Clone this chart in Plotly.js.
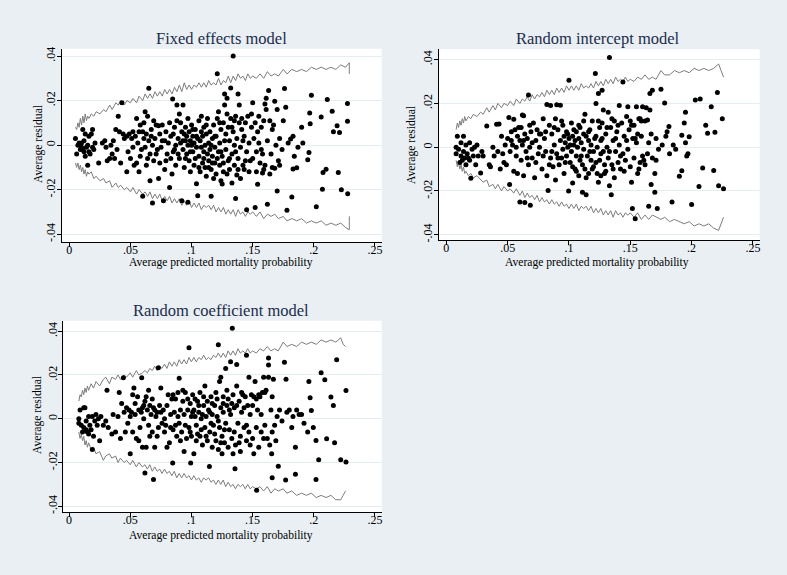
<!DOCTYPE html>
<html>
<head>
<meta charset="utf-8">
<script src="https://cdn.plot.ly/plotly-3.0.1.min.js"></script>
<style>html,body{margin:0;padding:0;background:#e9eff3;}#chart{width:787px;height:575px;}</style>
</head>
<body>
<div id="chart"></div>
<script>
// ---------- data ----------
const panelTitles = ["Fixed effects model", "Random intercept model", "Random coefficient model"];
const xTitle = "Average predicted mortality probability";
const yTitle = "Average residual";
const xTickVals = [0, 0.05, 0.1, 0.15, 0.2, 0.25];
const xTickText = ["0", ".05", ".1", ".15", ".2", ".25"];
const yTickVals = [-0.04, -0.02, 0, 0.02, 0.04];
const yTickText = ["-.04", "-.02", "0", ".02", ".04"];

// points [predicted probability, residual]
const pts1 = [
[.005,.003],[.006,-.004],[.007,.000],[.008,.001],[.009,-.002],[.010,.001],[.010,-.001],[.011,.007],[.012,-.003],[.012,.002],[.013,.005],[.013,-.005],[.014,-.001],[.015,.000],[.015,-.009],[.016,.004],[.016,-.003],[.018,.005],[.019,-.001],[.019,.007],[.020,-.002],[.021,.001],[.017,-.004],[.011,-.002],
[.024,-.008],[.027,.001],[.029,.002],[.030,-.001],[.031,-.007],[.033,-.006],[.035,-.004],[.036,.002],[.038,.007],[.039,-.002],[.040,.013],[.041,.006],[.042,-.008],[.043,.019],[.044,.005],[.045,.003],[.037,-.006],[.034,.000],
[.047,.004],[.047,-.012],[.048,-.003],[.049,.005],[.050,-.006],[.051,.003],[.052,-.001],[.053,-.009],[.054,.004],[.055,.012],[.055,-.008],[.056,.001],[.057,-.012],[.057,.006],[.058,.009],[.059,-.002],[.060,.006],[.060,-.023],[.061,.003],[.062,.015],[.062,-.001],[.063,.005],[.064,.013],[.064,-.006],[.065,.0255],[.065,.002],[.066,-.016],[.066,-.004],[.067,.007],[.068,-.026],[.068,.000],[.069,-.007],[.070,.003],[.071,.009],[.072,-.002],[.073,.0087],[.073,-.015],[.074,.005],[.075,-.001],[.076,.009],[.077,-.025],[.078,-.011],[.078,.002],
[.079,.006],[.080,-.004],[.081,.001],[.082,-.019],[.082,.010],[.083,.004],[.084,-.013],[.0845,.0207],[.085,-.003],[.086,.008],[.087,.000],[.087,-.009],[.088,.018],[.088,.011],[.089,.003],[.090,-.006],[.090,.014],[.091,.001],[.092,-.025],[.092,.006],[.093,.018],[.093,-.002],[.094,.005],[.094,-.010],[.095,.002],[.095,.008],[.096,-.004],[.096,.004],[.097,-.0256],[.097,.000],[.098,.006],[.098,-.007],[.099,.002],[.099,-.012],[.100,.000],[.100,.009],[.101,-.003],[.101,.004],[.102,.001],[.102,-.009],[.103,.007],[.104,-.0173],[.104,-.001],[.105,-.0227],[.105,.003],
[.106,.011],[.106,-.005],[.107,-.012],[.107,.002],[.108,.013],[.108,-.001],[.109,-.008],[.109,.004],[.110,.008],[.110,-.003],[.111,-.010],[.111,.000],[.112,.005],[.112,-.014],[.113,-.004],[.113,.012],[.114,.001],[.114,-.007],[.115,-.002],[.115,.006],[.116,-.023],[.116,-.011],[.117,.003],[.117,-.005],[.118,-.015],[.118,.009],[.119,-.001],[.119,-.008],[.120,.004],[.120,-.013],[.121,.032],[.121,.012],[.122,-.003],[.122,.015],[.123,-.009],[.123,.001],[.124,-.016],[.124,.007],[.125,-.0174],[.125,-.005],[.126,.010],[.126,-.012],[.127,.023],[.127,.018],[.128,-.002],[.128,.005],[.129,.021],[.129,-.013],[.130,-.007],[.130,.008],
[.131,.002],[.131,-.011],[.132,.0256],[.132,.012],[.133,-.017],[.133,-.004],[.134,.040],[.134,.006],[.135,.000],[.135,-.009],[.136,-.024],[.136,.013],[.137,-.0134],[.137,.003],[.138,.023],[.138,-.006],[.139,.018],[.139,.010],[.140,-.001],[.140,-.015],[.141,.007],[.142,-.009],[.143,-.011],[.143,.004],[.144,.010],[.145,-.003],[.146,.013],[.147,.001],[.148,-.007],[.149,.008],[.150,.019],[.150,-.006],[.151,.003],[.152,-.028],[.152,.010],[.153,-.012],[.154,-.0176],[.154,.006],[.155,.001],[.156,-.008],[.157,.008],[.158,-.004],[.159,.011],[.160,-.009],[.161,.021],[.161,.016],[.162,-.0266],[.162,.002],
[.163,.0245],[.164,-.013],[.164,.011],[.165,-.004],[.166,-.010],[.167,.009],[.168,-.0104],[.168,.0197],[.169,.000],[.170,.016],[.170,-.0206],[.171,-.007],[.172,.003],[.174,-.002],[.175,.011],[.176,.0254],[.177,.017],[.178,-.0292],[.179,.001],[.181,.0027],[.182,-.0233],[.183,.004],[.183,-.0107],[.184,-.005],[.186,-.0102],[.187,-.001],[.190,.008],[.191,.001],[.195,-.0066],[.196,-.0033],[.1966,.0144],[.197,.0096],[.198,.0224],[.202,-.0277],[.206,.0126],[.207,-.0198],[.2075,-.0123],[.210,-.0108],[.211,.0205],[.215,.0152],[.216,.006],[.219,.0087],[.220,-.0123],[.221,.0057],[.2225,-.020],[.2275,.0187],[.2275,.0107],[.2277,-.0218],[.160,.0185],[.145,-.029],[.158,-.0125],
[.052,.006],[.058,-.005],[.061,.010],[.063,-.009],[.067,.004],[.069,.011],[.071,-.004],[.074,-.008],[.076,.002],[.079,-.007],[.083,-.006],[.085,.005],[.086,-.002],[.089,-.004],[.091,.010],[.093,.002],[.095,-.006],[.097,.012],[.099,-.003],[.101,.007],[.103,-.006],[.104,.004],[.106,-.010],[.108,.006],[.110,-.006],[.112,.009],[.114,-.010],[.116,.000],[.117,-.008],[.119,.004],[.121,-.006],[.123,.010],[.124,-.003],[.126,-.008],[.127,.002],[.129,.014],[.131,-.006],[.133,.008],[.135,.011],[.136,-.003],[.138,-.011],[.141,.012],[.142,.002],[.144,-.007],[.147,-.012],[.149,.014],[.153,-.003],[.155,.013],[.157,-.002],[.159,-.011],[.166,.007],[.172,-.009]
];

const pts2 = [
[.008,.000],[.008,-.003],[.009,.005],[.010,-.001],[.011,-.007],[.012,.002],[.012,-.004],[.013,-.006],[.014,.005],[.014,-.002],[.015,-.005],[.016,-.008],[.016,.001],[.017,-.003],[.018,-.005],[.019,.002],[.019,-.006],[.020,-.0142],[.021,-.001],[.022,-.004],[.023,.000],[.024,-.008],[.025,.001],[.026,-.004],[.028,-.0118],[.029,-.002],[.030,-.004],
[.033,.0097],[.035,-.008],[.036,-.009],[.038,.000],[.039,-.004],[.041,.0105],[.042,-.002],[.043,.0106],[.044,-.010],[.045,.005],[.046,-.003],[.047,-.007],[.048,.001],[.049,-.008],[.050,.004],[.051,.0135],[.0516,-.017],[.052,-.002],[.053,.003],[.054,.001],[.055,.0128],[.055,-.011],[.056,.008],[.057,.000],[.058,-.012],[.058,.005],[.059,.009],[.060,-.025],[.060,.003],[.061,-.006],[.062,.0147],[.062,.001],[.063,.0143],[.063,-.013],[.064,.006],[.064,-.0253],[.065,-.002],[.066,.004],[.067,.0238],[.067,-.008],[.068,.000],[.0685,-.0265],[.069,.007],[.070,-.005],
[.071,.011],[.072,-.014],[.073,.003],[.074,.008],[.075,-.003],[.076,.000],[.077,.006],[.078,-.010],[.079,.013],[.080,.004],[.081,-.002],[.082,.0195],[.082,-.013],[.083,-.0198],[.084,.010],[.085,.019],[.085,-.005],[.086,.006],[.087,-.009],[.088,.001],[.089,.013],[.089,-.015],[.090,.0194],[.090,-.003],[.091,.008],[.092,-.008],[.093,.0191],[.093,.003],[.094,-.005],[.095,.010],[.095,-.001],[.096,.005],[.096,-.012],[.097,.002],[.098,-.004],[.098,.007],[.099,.000],[.0997,-.020],[.100,.0306],[.100,.004],[.101,-.007],
[.102,.011],[.102,-.002],[.103,-.0164],[.103,.005],[.104,.001],[.105,-.010],[.105,.003],[.106,.007],[.106,-.004],[.107,.000],[.108,-.013],[.108,.004],[.109,-.006],[.109,.009],[.110,.002],[.111,-.0206],[.111,-.008],[.112,.012],[.112,-.001],[.113,.015],[.113,-.010],[.114,-.0217],[.114,.005],[.115,-.004],[.116,.003],[.116,-.012],[.117,.008],[.118,-.006],[.118,.001],[.119,.012],[.120,-.002],[.120,-.009],[.1215,.0336],[.122,.020],[.122,.005],[.123,-.012],[.123,.000],[.124,.0245],[.124,-.016],[.125,-.006],[.125,.009],[.126,-.013],[.126,.003],[.127,.026],[.127,.011],[.128,-.002],[.128,.017],[.129,-.008],[.130,.006],[.130,-.011],
[.131,.000],[.132,.016],[.132,-.005],[.133,.041],[.133,-.0176],[.134,.009],[.1345,-.0217],[.135,-.008],[.136,.003],[.137,-.014],[.137,.012],[.138,-.002],[.139,.007],[.140,-.007],[.141,.019],[.141,.001],[.142,-.010],[.143,.011],[.144,.0298],[.144,-.003],[.145,.005],[.146,-.006],[.147,.014],[.148,.0185],[.148,-.001],[.149,.008],[.150,-.009],[.151,-.016],[.151,.010],[.1517,-.028],[.152,.004],[.153,.010],[.154,-.0327],[.154,.004],[.155,.0185],[.156,-.012],[.156,.006],[.157,.013],[.158,-.007],[.158,.013],[.159,.012],[.160,.0185],[.160,-.004],
[.161,-.006],[.162,.012],[.163,.018],[.164,.0124],[.164,-.003],[.165,-.027],[.165,.002],[.166,.0245],[.166,.017],[.167,-.017],[.168,.026],[.168,-.005],[.170,-.012],[.170,-.0206],[.171,.004],[.172,-.028],[.173,-.001],[.175,.0264],[.176,.001],[.178,.0202],[.179,.005],[.180,.007],[.1815,.0094],[.182,-.003],[.184,-.025],[.185,.001],[.187,-.001],[.190,-.0133],[.192,-.0108],[.192,.0055],[.194,.011],[.195,.016],[.195,.002],[.197,-.003],[.198,.0048],[.200,-.0262],[.203,.0215],[.206,-.018],[.207,.022],[.209,-.0095],[.2115,.0100],[.213,.0064],[.216,.0185],[.218,-.0106],[.219,.0068],[.221,.025],[.222,-.0176],[.225,.013],[.226,-.019],[.196,-.004],
[.053,.007],[.057,-.004],[.061,.009],[.063,.003],[.066,-.005],[.068,.010],[.070,.002],[.073,-.007],[.076,.006],[.079,-.004],[.081,.007],[.084,-.008],[.086,-.002],[.088,.009],[.091,-.005],[.094,.012],[.097,-.007],[.099,.006],[.101,.001],[.103,-.009],[.104,.008],[.106,-.011],[.108,.010],[.110,-.004],[.112,.006],[.114,-.014],[.116,.007],[.117,-.002],[.119,-.010],[.121,.004],[.122,-.007],[.124,.012],[.126,-.003],[.127,.004],[.129,-.012],[.131,.009],[.133,-.002],[.135,.013],[.136,-.010],[.138,.004],[.140,.010],[.142,-.004],[.145,-.011],[.147,.003],[.150,.012],[.153,-.005],[.155,.002],[.157,-.010],[.159,.005],[.162,-.008],[.167,.006],[.171,-.006]
];

const pts3 = [
[.008,.000],[.008,-.002],[.009,.004],[.010,-.003],[.011,-.006],[.012,.005],[.012,-.004],[.013,.005],[.014,-.005],[.014,-.001],[.015,-.006],[.016,-.007],[.016,.001],[.017,-.003],[.018,-.005],[.019,.001],[.019,-.014],[.020,-.008],[.021,-.001],[.022,.002],[.023,-.003],[.024,.000],[.025,-.010],[.026,.001],[.028,-.003],[.030,-.001],[.031,.013],[.032,-.004],
[.035,-.007],[.036,.002],[.038,-.006],[.040,.001],[.041,.012],[.042,-.009],[.043,.007],[.0444,.0187],[.045,.003],[.046,-.006],[.047,.005],[.048,-.002],[.049,.004],[.050,-.016],[.050,.001],[.051,.003],[.052,.011],[.052,-.006],[.053,.014],[.054,.002],[.055,-.009],[.056,.010],[.057,.004],[.058,-.004],[.059,.003],[.0594,.0187],[.060,-.013],[.060,.005],[.061,.000],[.062,-.0248],[.062,.008],[.063,-.013],[.064,.004],[.065,.013],[.065,-.003],[.066,.006],[.067,.002],[.068,-.006],[.069,-.0278],[.069,.005],[.070,-.013],[.071,.001],[.072,.003],
[.073,.0233],[.073,-.004],[.074,.006],[.075,.014],[.076,-.002],[.077,.004],[.078,.000],[.079,-.003],[.080,-.013],[.081,.011],[.082,-.011],[.083,.002],[.084,.009],[.0847,-.0202],[.085,-.005],[.086,.003],[.087,.009],[.088,-.008],[.089,.012],[.090,.0185],[.090,-.002],[.091,.004],[.092,-.006],[.093,.008],[.094,-.015],[.094,.002],[.095,.012],[.096,-.009],[.097,.004],[.098,.0324],[.098,-.004],[.0994,-.0202],[.099,.007],[.100,-.008],[.100,.001],[.101,.011],
[.102,-.016],[.102,.004],[.103,.001],[.104,-.003],[.105,.008],[.105,-.007],[.106,.003],[.107,-.008],[.107,.012],[.108,.000],[.109,.002],[.109,-.012],[.110,.006],[.111,-.004],[.111,.015],[.112,.001],[.113,-.010],[.113,.008],[.1147,-.0218],[.115,-.006],[.115,.003],[.116,.010],[.117,-.013],[.117,.002],[.118,-.003],[.119,.006],[.120,-.010],[.120,.012],[.121,.001],[.122,.0338],[.122,-.014],[.123,.017],[.123,-.004],[.124,.019],[.124,.005],[.125,-.016],[.125,-.008],[.126,.010],[.126,.003],[.127,-.011],[.128,.023],[.128,-.002],[.129,.006],[.130,-.013],[.130,.009],
[.131,-.005],[.132,.026],[.132,.002],[.1334,.0414],[.133,-.009],[.134,.011],[.134,-.016],[.1356,-.0228],[.135,.005],[.136,-.012],[.137,.0248],[.137,.015],[.138,-.002],[.139,.008],[.140,-.008],[.140,-.015],[.141,.003],[.142,.011],[.143,-.004],[.144,.010],[.145,.029],[.145,-.010],[.146,.006],[.147,.019],[.147,-.006],[.148,.002],[.149,.011],[.150,-.009],[.151,-.016],[.151,.010],[.152,.017],[.1533,-.0327],[.153,.009],[.154,.004],[.155,-.013],[.156,.010],[.157,-.006],[.158,.012],[.159,.019],[.160,-.003],[.160,.012],
[.161,.013],[.162,-.009],[.163,.0278],[.163,.0246],[.163,.019],[.164,-.012],[.165,.004],[.1656,-.016],[.166,-.027],[.166,-.006],[.167,.018],[.168,-.003],[.170,.001],[.171,-.0217],[.172,.004],[.174,-.001],[.176,.0258],[.1773,.018],[.177,-.028],[.178,.003],[.180,.004],[.182,-.004],[.183,.001],[.185,-.0254],[.185,-.013],[.186,.004],[.188,.002],[.190,.002],[.192,-.002],[.196,.017],[.197,.0096],[.198,.0038],[.1996,-.004],[.2018,-.0099],[.2018,-.0278],[.204,-.0187],[.206,.021],[.209,.0178],[.2105,-.0091],[.214,.0099],[.216,.006],[.217,-.011],[.2187,.027],[.222,-.0187],[.2263,.0129],[.2263,-.0198],[.195,-.006],
[.054,.007],[.057,-.010],[.061,.006],[.063,.010],[.066,-.008],[.068,.009],[.070,.004],[.072,-.008],[.075,.003],[.078,-.006],[.080,.006],[.083,-.004],[.085,.011],[.087,-.003],[.089,.001],[.091,-.010],[.093,.013],[.095,-.003],[.097,.009],[.099,-.006],[.101,.003],[.103,.009],[.104,-.010],[.106,.006],[.108,-.005],[.110,.010],[.112,-.008],[.114,.004],[.116,-.002],[.117,.007],[.119,-.007],[.121,.009],[.122,-.001],[.124,-.011],[.126,.007],[.127,-.005],[.129,.013],[.131,.004],[.133,.007],[.135,-.006],[.137,.006],[.139,-.011],[.141,.012],[.143,.005],[.145,-.003],[.148,-.012],[.150,.006],[.153,-.004],[.155,.011],[.157,.002],[.159,-.009],[.166,.010],[.169,-.010]
];

// envelope rows [predicted probability, upper limit, lower limit]
const env1 = [
[.005,.008,-.008],[.006,.007,-.010],[.007,.010,-.008],[.008,.008,-.011],[.009,.012,-.009],[.010,.009,-.012],[.011,.013,-.010],[.012,.010,-.013],[.013,.014,-.011],[.014,.011,-.014],[.015,.013,-.012],[.016,.012,-.013],
[.018,.014,-.012],[.020,.013,-.015],[.022,.015,-.014],[.025,.014,-.016],[.028,.016,-.015],[.030,.015,-.017],[.033,.018,-.016],[.035,.016,-.019],[.038,.019,-.017],[.040,.018,-.019],[.042,.020,-.018],[.045,.018,-.020],[.047,.020,-.019],[.050,.019,-.021],[.052,.021,-.019],[.055,.019,-.022],[.057,.022,-.020],
[.060,.020,-.022],[.062,.023,-.021],[.064,.021,-.023],[.066,.023,-.021],[.068,.021,-.024],[.070,.024,-.022],[.072,.022,-.024],[.074,.024,-.022],[.076,.022,-.025],[.078,.025,-.023],
[.080,.023,-.025],[.082,.025,-.023],[.084,.023,-.026],[.086,.026,-.024],[.088,.024,-.026],[.090,.027,-.024],[.092,.024,-.027],[.094,.028,-.025],[.096,.025,-.027],[.098,.027,-.025],
[.100,.025,-.028],[.102,.027,-.026],[.104,.026,-.028],[.106,.028,-.026],[.108,.026,-.029],[.110,.028,-.027],[.112,.026,-.028],[.114,.029,-.027],[.116,.027,-.029],[.118,.028,-.027],
[.120,.027,-.030],[.122,.030,-.028],[.124,.027,-.030],[.126,.029,-.028],[.128,.028,-.031],[.130,.031,-.029],[.132,.028,-.031],[.134,.031,-.029],[.136,.029,-.032],[.138,.032,-.029],
[.140,.030,-.031],[.142,.031,-.030],[.144,.029,-.032],[.146,.032,-.030],[.148,.030,-.031],[.150,.031,-.030],
[.153,.030,-.032],[.156,.032,-.030],[.159,.030,-.033],[.162,.033,-.031],[.165,.031,-.032],[.168,.032,-.031],[.171,.031,-.033],[.175,.034,-.032],[.178,.032,-.034],
[.182,.034,-.033],[.186,.033,-.034],[.190,.034,-.033],[.194,.033,-.035],[.198,.035,-.034],[.202,.034,-.035],[.206,.035,-.034],[.210,.034,-.036],[.214,.035,-.035],[.218,.034,-.036],[.222,.036,-.035],[.226,.035,-.037],[.229,.037,-.038],[.229,.032,-.032]
];

const env2 = [
[.008,.008,-.006],[.009,.011,-.009],[.010,.009,-.007],[.011,.012,-.010],[.012,.010,-.008],[.013,.013,-.011],[.014,.011,-.009],[.015,.014,-.012],[.016,.012,-.011],
[.018,.014,-.013],[.020,.013,-.012],[.022,.015,-.014],[.025,.014,-.013],[.028,.016,-.015],[.030,.015,-.016],[.033,.018,-.015],[.035,.016,-.018],[.038,.019,-.017],[.040,.017,-.019],[.042,.020,-.017],[.045,.018,-.020],[.047,.020,-.018],[.050,.019,-.020],[.052,.021,-.019],[.055,.019,-.021],[.057,.022,-.019],
[.060,.020,-.022],[.062,.022,-.020],[.064,.021,-.023],[.066,.023,-.021],[.068,.021,-.023],[.070,.024,-.022],[.072,.022,-.024],[.074,.024,-.022],[.076,.023,-.025],[.078,.025,-.023],
[.080,.023,-.025],[.082,.026,-.024],[.084,.024,-.026],[.086,.026,-.024],[.088,.024,-.026],[.090,.027,-.025],[.092,.025,-.027],[.094,.027,-.025],[.096,.025,-.027],[.098,.028,-.026],
[.100,.026,-.028],[.102,.028,-.026],[.104,.026,-.028],[.106,.028,-.026],[.108,.026,-.029],[.110,.029,-.027],[.112,.027,-.028],[.114,.028,-.027],[.116,.027,-.029],[.118,.029,-.027],
[.120,.027,-.030],[.122,.030,-.028],[.124,.028,-.030],[.126,.030,-.028],[.128,.028,-.031],[.130,.031,-.029],[.132,.029,-.031],[.134,.031,-.029],[.136,.029,-.032],[.138,.032,-.029],
[.140,.030,-.031],[.142,.031,-.030],[.144,.030,-.032],[.146,.032,-.030],[.148,.030,-.031],[.150,.031,-.030],
[.153,.030,-.032],[.156,.032,-.030],[.159,.031,-.033],[.162,.033,-.031],[.165,.031,-.033],[.168,.032,-.031],[.171,.031,-.032],[.175,.035,-.033],[.178,.033,-.032],
[.182,.033,-.034],[.186,.035,-.033],[.190,.034,-.034],[.194,.035,-.035],[.198,.034,-.034],[.202,.036,-.036],[.206,.035,-.035],[.210,.036,-.036],[.214,.035,-.035],[.218,.036,-.037],[.222,.038,-.038],[.224,.035,-.035],[.226,.032,-.032]
];

const env3 = [
[.008,.008,-.006],[.009,.011,-.009],[.010,.010,-.007],[.011,.013,-.010],[.012,.011,-.008],[.013,.014,-.012],[.014,.012,-.010],[.015,.015,-.013],[.016,.013,-.011],
[.018,.016,-.014],[.020,.014,-.013],[.022,.017,-.016],[.025,.015,-.015],[.028,.018,-.019],[.030,.019,-.017],[.033,.016,-.016],[.035,.019,-.018],[.038,.018,-.017],[.040,.020,-.020],[.042,.018,-.018],[.045,.020,-.020],[.047,.019,-.019],[.050,.021,-.021],[.052,.019,-.019],[.055,.022,-.022],[.057,.020,-.020],
[.060,.021,-.022],[.062,.022,-.021],[.064,.021,-.023],[.066,.023,-.021],[.068,.022,-.024],[.070,.024,-.022],[.072,.022,-.024],[.074,.024,-.023],[.076,.023,-.025],[.078,.025,-.023],
[.080,.023,-.025],[.082,.026,-.024],[.084,.024,-.026],[.086,.026,-.024],[.088,.024,-.027],[.090,.027,-.025],[.092,.025,-.027],[.094,.027,-.025],[.096,.025,-.027],[.098,.028,-.026],
[.100,.026,-.028],[.102,.028,-.026],[.104,.026,-.028],[.106,.028,-.027],[.108,.027,-.029],[.110,.029,-.027],[.112,.027,-.028],[.114,.028,-.027],[.116,.027,-.029],[.118,.029,-.028],
[.120,.028,-.030],[.122,.030,-.028],[.124,.028,-.030],[.126,.030,-.028],[.128,.028,-.031],[.130,.031,-.029],[.132,.029,-.031],[.134,.031,-.030],[.136,.029,-.032],[.138,.032,-.030],
[.140,.030,-.031],[.142,.031,-.030],[.144,.030,-.032],[.146,.032,-.030],[.148,.030,-.032],[.150,.031,-.031],
[.153,.030,-.032],[.156,.032,-.031],[.159,.031,-.033],[.162,.033,-.031],[.165,.031,-.034],[.168,.032,-.032],[.171,.031,-.033],[.175,.035,-.032],[.178,.033,-.034],
[.182,.034,-.033],[.186,.033,-.035],[.190,.035,-.034],[.194,.034,-.035],[.198,.035,-.034],[.202,.034,-.036],[.206,.036,-.035],[.210,.035,-.036],[.214,.036,-.035],[.218,.035,-.037],[.222,.037,-.037],[.224,.034,-.035],[.226,.033,-.033]
];

// ---------- drawing ----------
const FONT = "Liberation Serif, Times New Roman, serif";
const panels = [
  {pts: pts1, env: env1, xd: [62/787, 381.7/787], yd: [1-242/575, 1-48.7/575], xr: [-0.006, 0.2555], yr: [-0.0435, 0.0433],
   title: [221, 39], xt: [221, 262], yt: [38, 144]},
  {pts: pts2, env: env2, xd: [438.7/787, 759.7/787], yd: [1-240/575, 1-49.3/575], xr: [-0.0062, 0.2555], yr: [-0.0424, 0.0447],
   title: [598, 38], xt: [597, 262], yt: [411, 145]},
  {pts: pts3, env: env3, xd: [63.3/787, 381.7/787], yd: [1-512/575, 1-320.7/575], xr: [-0.0047, 0.2555], yr: [-0.0426, 0.0448],
   title: [221, 310], xt: [221, 535], yt: [37, 415]}
];

const traces = [];
const layout = {
  width: 787, height: 575,
  margin: {l: 0, r: 0, t: 0, b: 0},
  paper_bgcolor: "#e9eff3",
  plot_bgcolor: "#ffffff",
  showlegend: false,
  font: {family: FONT, color: "#000000", size: 12},
  annotations: []
};

panels.forEach((p, i) => {
  const n = i === 0 ? "" : String(i + 1);
  const xa = "x" + n, ya = "y" + n;
  const ex = p.env.map(r => r[0]);
  traces.push({x: ex, y: p.env.map(r => r[1]), xaxis: xa, yaxis: ya, type: "scatter", mode: "lines",
               line: {color: "#7c7c7c", width: 1}, hoverinfo: "skip"});
  traces.push({x: ex, y: p.env.map(r => r[2]), xaxis: xa, yaxis: ya, type: "scatter", mode: "lines",
               line: {color: "#7c7c7c", width: 1}, hoverinfo: "skip"});
  traces.push({x: p.pts.map(q => q[0]), y: p.pts.map(q => q[1]), xaxis: xa, yaxis: ya, type: "scatter", mode: "markers",
               marker: {color: "#000000", size: 5, symbol: "circle", line: {width: 0}}});
  layout["xaxis" + n] = {
    domain: p.xd, range: p.xr, anchor: ya,
    tickvals: xTickVals, ticktext: xTickText,
    showgrid: false, zeroline: false, showline: true, linecolor: "#000", linewidth: 1,
    ticks: "outside", ticklen: 4, tickcolor: "#000", tickwidth: 1, ticklabelstandoff: -7,
    tickfont: {family: FONT, size: 12, color: "#000"}, fixedrange: true
  };
  layout["yaxis" + n] = {
    domain: p.yd, range: p.yr, anchor: xa,
    tickvals: yTickVals, ticktext: yTickText, tickangle: -90, ticklabelstandoff: -3,
    showgrid: true, gridcolor: "#e6edf0", gridwidth: 1, zeroline: false,
    showline: true, linecolor: "#000", linewidth: 1,
    ticks: "outside", ticklen: 4, tickcolor: "#000", tickwidth: 1,
    tickfont: {family: FONT, size: 12, color: "#000"}, fixedrange: true
  };
  layout.annotations.push({text: panelTitles[i], xref: "paper", yref: "paper", x: p.title[0]/787, y: 1 - p.title[1]/575,
    xanchor: "center", yanchor: "middle", showarrow: false, font: {family: FONT, size: 16.5, color: "#1c2c4c"}});
  layout.annotations.push({text: xTitle, xref: "paper", yref: "paper", x: p.xt[0]/787, y: 1 - p.xt[1]/575,
    xanchor: "center", yanchor: "middle", showarrow: false, font: {family: FONT, size: 11.6, color: "#000"}});
  layout.annotations.push({text: yTitle, xref: "paper", yref: "paper", x: p.yt[0]/787, y: 1 - p.yt[1]/575,
    xanchor: "center", yanchor: "middle", showarrow: false, textangle: -90, font: {family: FONT, size: 11.6, color: "#000"}});
});

Plotly.newPlot("chart", traces, layout, {displayModeBar: false, staticPlot: true});
</script>
</body>
</html>
